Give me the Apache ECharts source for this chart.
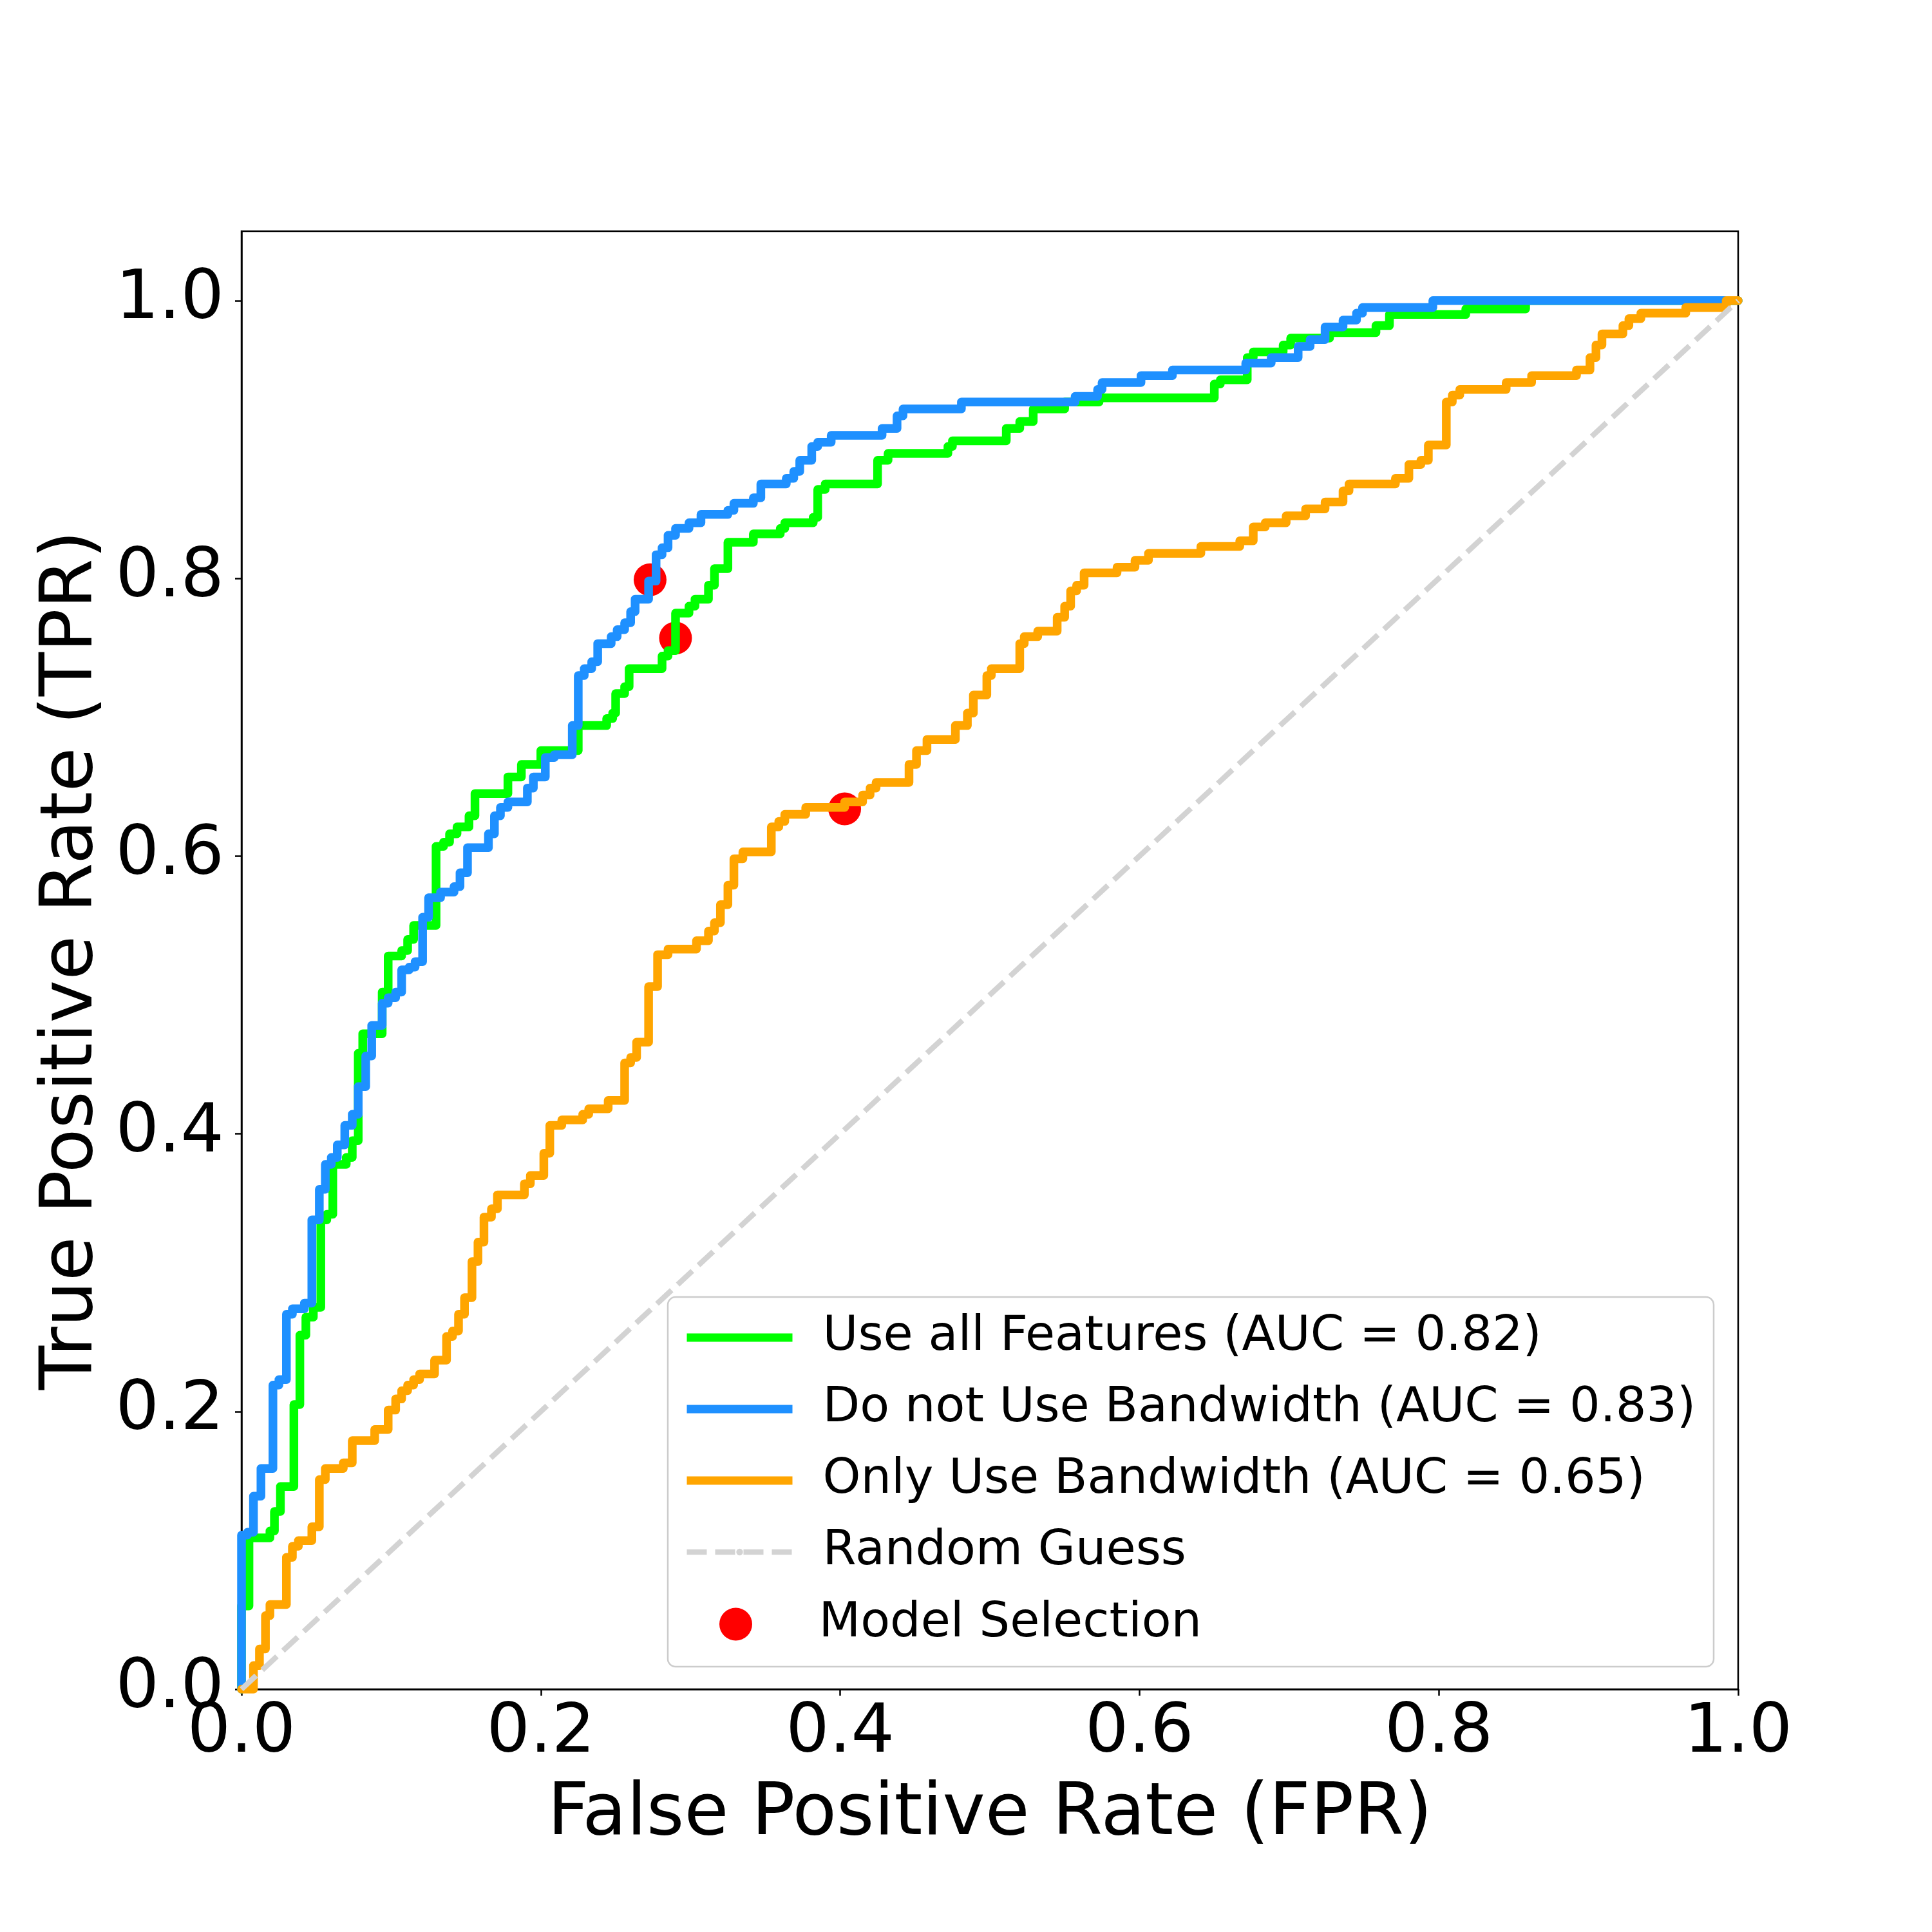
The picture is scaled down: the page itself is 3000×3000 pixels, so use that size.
<!DOCTYPE html>
<html>
<head>
<meta charset="utf-8">
<script src="https://cdn.jsdelivr.net/npm/echarts@6/dist/echarts.min.js"></script>
<style>
html,body{margin:0;padding:0;background:#fff;}
#chart{width:3000px;height:3000px;}
</style>
</head>
<body>
<div id="chart"></div>
<script>
// ROC steps: at each fpr the tpr jumps up to the given value
var allFpr  = [0,0.005,0.019,0.022,0.026,0.035,0.039,0.043,0.048,0.053,0.057,0.061,0.070,0.074,0.078,0.081,0.094,0.098,0.107,0.111,0.115,0.130,0.135,0.139,0.144,0.152,0.156,0.178,0.187,0.200,0.225,0.244,0.248,0.250,0.256,0.259,0.281,0.285,0.290,0.299,0.303,0.312,0.316,0.325,0.342,0.360,0.363,0.382,0.385,0.390,0.425,0.432,0.472,0.475,0.511,0.520,0.529,0.550,0.573,0.650,0.654,0.672,0.676,0.696,0.701,0.727,0.758,0.767,0.818,0.858];
var allTpr  = [0.060,0.109,0.114,0.128,0.146,0.205,0.255,0.268,0.275,0.338,0.342,0.378,0.383,0.395,0.458,0.472,0.502,0.528,0.532,0.540,0.550,0.607,0.610,0.616,0.621,0.629,0.645,0.657,0.666,0.676,0.694,0.699,0.703,0.717,0.722,0.735,0.744,0.748,0.775,0.780,0.785,0.795,0.807,0.826,0.832,0.836,0.840,0.844,0.864,0.868,0.885,0.890,0.895,0.899,0.908,0.913,0.922,0.927,0.930,0.940,0.943,0.959,0.963,0.968,0.973,0.977,0.982,0.990,0.994,1.000];

var noBwFpr = [0,0.004,0.008,0.013,0.021,0.025,0.030,0.034,0.042,0.047,0.052,0.056,0.060,0.064,0.069,0.074,0.078,0.083,0.087,0.094,0.098,0.103,0.107,0.112,0.116,0.121,0.125,0.133,0.142,0.146,0.151,0.165,0.169,0.173,0.178,0.191,0.195,0.203,0.209,0.221,0.225,0.229,0.234,0.238,0.247,0.251,0.256,0.260,0.263,0.272,0.277,0.281,0.285,0.290,0.299,0.307,0.325,0.329,0.342,0.347,0.364,0.369,0.373,0.381,0.385,0.394,0.428,0.438,0.442,0.481,0.557,0.572,0.575,0.601,0.622,0.671,0.688,0.706,0.714,0.724,0.736,0.745,0.749,0.796];
var noBwTpr = [0.111,0.113,0.139,0.159,0.219,0.223,0.270,0.274,0.278,0.338,0.360,0.378,0.383,0.392,0.406,0.414,0.434,0.456,0.478,0.494,0.498,0.502,0.518,0.520,0.524,0.556,0.570,0.574,0.578,0.588,0.606,0.616,0.629,0.635,0.639,0.649,0.657,0.671,0.673,0.694,0.730,0.735,0.740,0.753,0.758,0.763,0.768,0.776,0.785,0.798,0.817,0.822,0.831,0.836,0.840,0.846,0.849,0.854,0.858,0.868,0.872,0.877,0.885,0.895,0.898,0.903,0.908,0.917,0.922,0.927,0.931,0.936,0.941,0.946,0.950,0.955,0.959,0.967,0.972,0.981,0.986,0.991,0.995,1.000];

var bwFpr   = [0.008,0.012,0.016,0.019,0.030,0.034,0.038,0.047,0.052,0.056,0.068,0.074,0.089,0.098,0.103,0.107,0.111,0.115,0.119,0.129,0.137,0.141,0.145,0.149,0.154,0.158,0.162,0.167,0.171,0.189,0.193,0.202,0.206,0.214,0.228,0.232,0.245,0.256,0.260,0.264,0.272,0.278,0.285,0.304,0.312,0.316,0.320,0.325,0.329,0.335,0.354,0.359,0.363,0.377,0.403,0.415,0.420,0.424,0.446,0.451,0.458,0.477,0.485,0.489,0.498,0.501,0.520,0.523,0.532,0.545,0.550,0.554,0.558,0.563,0.585,0.597,0.606,0.641,0.667,0.676,0.684,0.698,0.711,0.724,0.736,0.740,0.771,0.780,0.788,0.793,0.805,0.809,0.814,0.845,0.862,0.892,0.901,0.905,0.909,0.923,0.927,0.935,0.965,0.992];
var bwTpr   = [0.017,0.029,0.053,0.061,0.095,0.103,0.107,0.117,0.151,0.159,0.163,0.179,0.187,0.201,0.209,0.215,0.219,0.223,0.227,0.237,0.254,0.258,0.270,0.282,0.308,0.322,0.340,0.346,0.356,0.364,0.370,0.386,0.406,0.410,0.414,0.418,0.424,0.451,0.455,0.466,0.506,0.529,0.533,0.539,0.546,0.552,0.565,0.579,0.598,0.603,0.621,0.625,0.630,0.635,0.639,0.644,0.649,0.653,0.666,0.676,0.684,0.694,0.703,0.716,0.730,0.735,0.753,0.758,0.762,0.772,0.780,0.791,0.795,0.804,0.808,0.813,0.818,0.823,0.827,0.837,0.840,0.845,0.850,0.855,0.863,0.868,0.872,0.882,0.885,0.896,0.927,0.932,0.936,0.941,0.946,0.950,0.959,0.968,0.976,0.982,0.987,0.991,0.995,1.000];

var guessFpr = [0, 1];
var guessTpr = [0, 1];

var modelFpr = [0.273, 0.290, 0.403];
var modelTpr = [0.799, 0.757, 0.634];

var tickValues = [0, 0.2, 0.4, 0.6, 0.8, 1.0];

var names = ['Use all Features (AUC = 0.82)', 'Do not Use Bandwidth (AUC = 0.83)', 'Only Use Bandwidth (AUC = 0.65)', 'Random Guess', 'Model Selection'];

// corners of a step curve from (0,0) to x=1
function steps(xs, ys){
    var pts = [[0, 0]];
    var prev = 0;
    for(var i=0;i<xs.length;i++){
        pts.push([xs[i], prev]);
        pts.push([xs[i], ys[i]]);
        prev = ys[i];
    }
    pts.push([1, prev]);
    return pts;
}
function pairs(xs, ys){
    var pts = [];
    for(var i=0;i<xs.length;i++){ pts.push([xs[i], ys[i]]); }
    return pts;
}

var font = 'DejaVu Sans';
var lineW = 13.5;

function rocLine(name, color, data){
    return {
        name: name, type: 'line', data: data, symbol: 'none',
        lineStyle: {color: color, width: lineW, cap: 'round', join: 'round'},
        itemStyle: {color: color},
        animation: false
    };
}

var legendText = {fontFamily: font, fontSize: 75, color: '#000', lineHeight: 90, padding: [0, 0, 0, 42]};

var chart = echarts.init(document.getElementById('chart'), null, {renderer: 'canvas'});
var option = {
    animation: false,
    backgroundColor: '#fff',
    grid: {left: 375, right: 301, top: 359, bottom: 377, show: true, borderColor: '#000', borderWidth: 2.5, backgroundColor: 'transparent'},
    xAxis: {
        type: 'value', min: 0, max: 1,
        name: 'False Positive Rate (FPR)', nameLocation: 'middle', nameGap: 140,
        nameTextStyle: {fontFamily: font, fontSize: 112, color: '#000'},
        axisLine: {show: true, lineStyle: {color: '#000', width: 2.5}},
        axisTick: {show: true, inside: false, length: 10, lineStyle: {color: '#000', width: 2.5}, customValues: tickValues},
        axisLabel: {fontFamily: font, fontSize: 106, color: '#000', margin: 16, customValues: tickValues,
            formatter: function(v){ return v.toFixed(1); }},
        splitLine: {show: false}
    },
    yAxis: {
        type: 'value', min: 0, max: 1.05,
        name: 'True Positive Rate (TPR)', nameLocation: 'middle', nameGap: 202,
        nameTextStyle: {fontFamily: font, fontSize: 112, color: '#000'},
        axisLine: {show: true, lineStyle: {color: '#000', width: 2.5}},
        axisTick: {show: true, inside: false, length: 10, lineStyle: {color: '#000', width: 2.5}, customValues: tickValues},
        axisLabel: {fontFamily: font, fontSize: 106, color: '#000', margin: 27, customValues: tickValues,
            formatter: function(v){ return v.toFixed(1); }},
        splitLine: {show: false}
    },
    legend: [{
        data: [
            {name: names[0], lineStyle: {width: 13, cap: 'butt'}},
            {name: names[1], lineStyle: {width: 13, cap: 'butt'}},
            {name: names[2], lineStyle: {width: 13, cap: 'butt'}},
            {name: names[3], lineStyle: {width: 8.4, type: [31, 13], cap: 'butt'}}
        ],
        orient: 'vertical', left: 1060, top: 2032, padding: 0,
        itemWidth: 164, itemHeight: 13, itemGap: 21,
        textStyle: legendText, selectedMode: false, z: 12
    }, {
        data: [names[4]],
        orient: 'vertical', left: 1117, top: 2477, padding: 0,
        itemWidth: 164, itemHeight: 51,
        textStyle: legendText, selectedMode: false, z: 12
    }],
    graphic: [{
        type: 'rect', z: 10,
        shape: {x: 1037, y: 2014, width: 1624, height: 574, r: 12},
        style: {fill: 'rgba(255,255,255,0.8)', stroke: '#cccccc', lineWidth: 2.5}
    }],
    series: [
        {
            name: names[4], type: 'scatter', data: pairs(modelFpr, modelTpr),
            symbol: 'circle', symbolSize: 51, itemStyle: {color: '#ff0000', opacity: 1}, animation: false
        },
        rocLine(names[0], '#00ff00', steps(allFpr, allTpr)),
        rocLine(names[1], '#1e90ff', steps(noBwFpr, noBwTpr)),
        rocLine(names[2], '#ffa500', steps(bwFpr, bwTpr)),
        {
            name: names[3], type: 'line', data: pairs(guessFpr, guessTpr), symbol: 'none',
            lineStyle: {color: '#d3d3d3', width: 8.4, type: [31, 13]},
            itemStyle: {color: '#d3d3d3'}, animation: false
        }
    ]
};
chart.setOption(option);
</script>
</body>
</html>
